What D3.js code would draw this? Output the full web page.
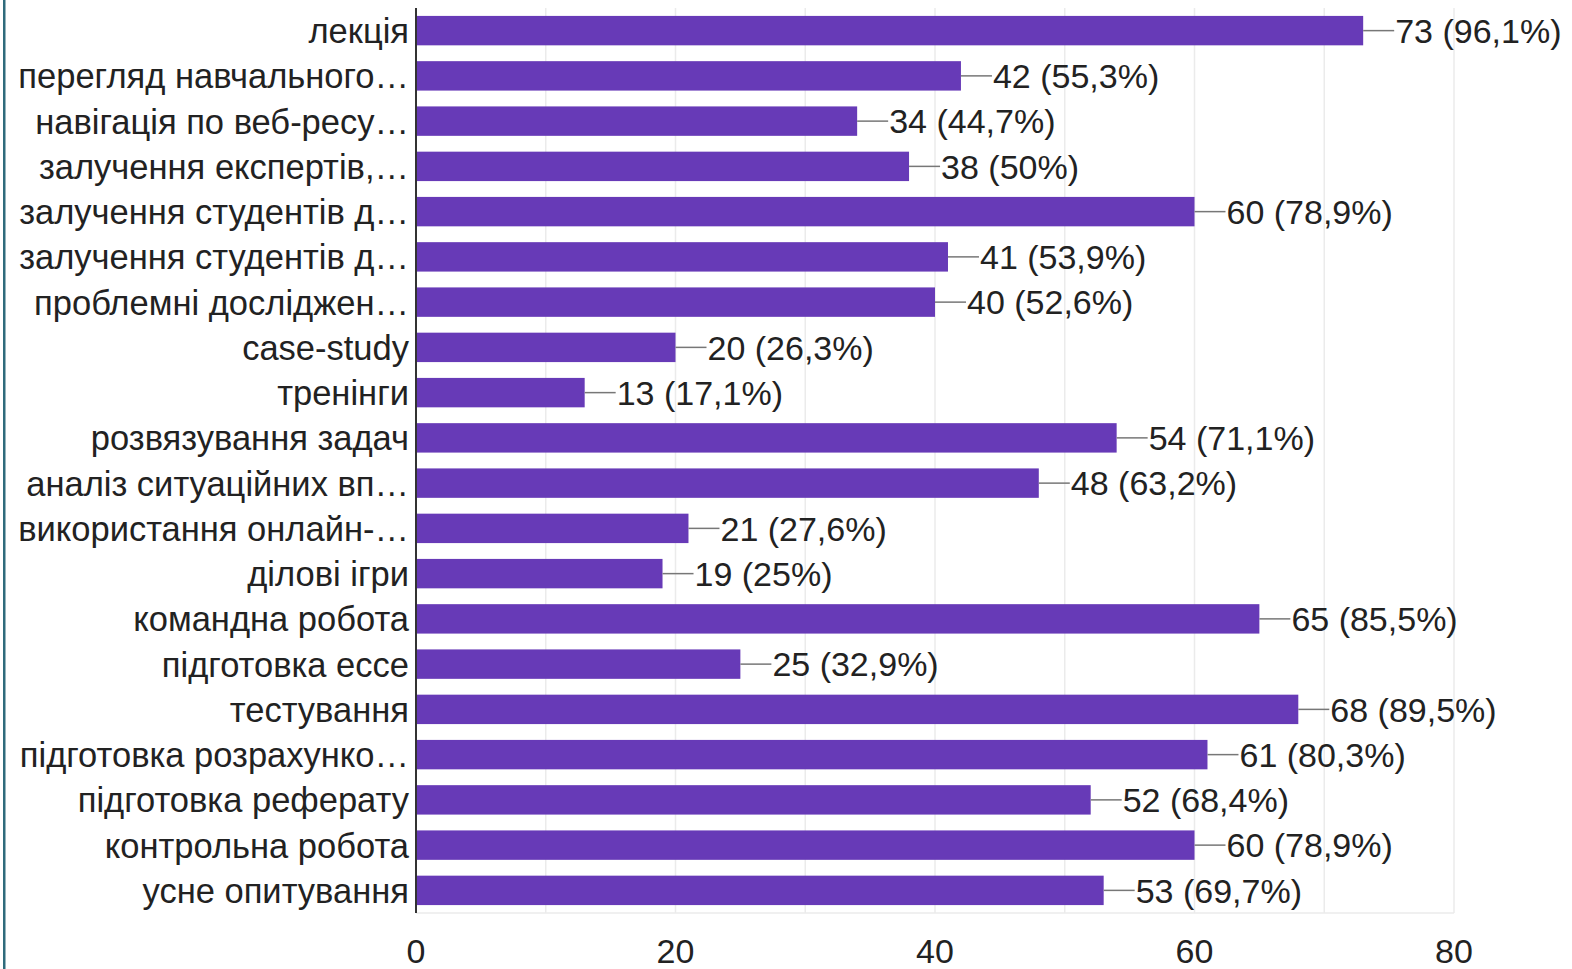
<!DOCTYPE html>
<html><head><meta charset="utf-8">
<script src="https://cdn.jsdelivr.net/npm/d3@7/dist/d3.min.js"></script>
<style>
html,body{margin:0;padding:0;background:#fff;}
svg{display:block;}
text{font-family:"Liberation Sans",Arial,sans-serif;}
</style></head>
<body>
<svg id="chart" width="1572" height="969"></svg>
<script>
const categories = ["лекція","перегляд навчального…","навігація по веб-ресу…","залучення експертів,…","залучення студентів д…","залучення студентів д…","проблемні досліджен…","case-study","тренінги","розвязування задач","аналіз ситуаційних вп…","використання онлайн-…","ділові ігри","командна робота","підготовка ессе","тестування","підготовка розрахунко…","підготовка реферату","контрольна робота","усне опитування"];
const counts = [73,42,34,38,60,41,40,20,13,54,48,21,19,65,25,68,61,52,60,53];
const percents = ["96,1%","55,3%","44,7%","50%","78,9%","53,9%","52,6%","26,3%","17,1%","71,1%","63,2%","27,6%","25%","85,5%","32,9%","89,5%","80,3%","68,4%","78,9%","69,7%"];
const xTicks = [0,20,40,60,80];
const gridTicks = [10,20,30,40,50,60,70,80];

const svg = d3.select("#chart");
const m = {left:416, right:1454, top:8, bottom:913};

const x = d3.scaleLinear().domain([0,80]).range([m.left,m.right]);
const y = d3.scaleBand().domain(d3.range(categories.length)).range([m.top,m.bottom]).paddingInner(0.35).paddingOuter(0.175);

// left teal frame line
svg.append("rect").attr("x",3).attr("y",0).attr("width",2.5).attr("height",969).attr("fill","#2f6b7c");

// gridlines
svg.append("g").selectAll("line").data(gridTicks).join("line")
  .attr("x1",d=>x(d)).attr("x2",d=>x(d)).attr("y1",m.top).attr("y2",m.bottom)
  .attr("stroke","#ebebeb").attr("stroke-width",1.5);
svg.append("line").attr("x1",m.left).attr("x2",m.right).attr("y1",m.bottom).attr("y2",m.bottom)
  .attr("stroke","#ebebeb").attr("stroke-width",1.5);

// bars
svg.append("g").selectAll("rect").data(counts).join("rect")
  .attr("x",x(0)).attr("y",(d,i)=>y(i)).attr("width",d=>x(d)-x(0)).attr("height",y.bandwidth())
  .attr("fill","#673ab7");

// leader lines
svg.append("g").selectAll("line").data(counts).join("line")
  .attr("x1",d=>x(d)).attr("x2",d=>x(d)+31)
  .attr("y1",(d,i)=>y(i)+y.bandwidth()/2).attr("y2",(d,i)=>y(i)+y.bandwidth()/2)
  .attr("stroke","#777").attr("stroke-width",1.5);

// value labels
svg.append("g").selectAll("text").data(counts).join("text")
  .attr("x",d=>x(d)+32).attr("y",(d,i)=>y(i)+y.bandwidth()/2)
  .attr("dy","0.36em").attr("font-size",34).attr("fill","#222")
  .text((d,i)=>d+" ("+percents[i]+")");

// category labels
svg.append("g").selectAll("text").data(categories).join("text")
  .attr("x",m.left-7).attr("y",(d,i)=>y(i)+y.bandwidth()/2)
  .attr("dy","0.36em").attr("text-anchor","end").attr("font-size",34.5).attr("fill","#222")
  .text(d=>d);

// axis line
svg.append("line").attr("x1",m.left).attr("x2",m.left).attr("y1",m.top).attr("y2",m.bottom)
  .attr("stroke","#333").attr("stroke-width",2);

// x tick labels
svg.append("g").selectAll("text").data(xTicks).join("text")
  .attr("x",d=>x(d)).attr("y",963).attr("text-anchor","middle")
  .attr("font-size",34).attr("fill","#222").text(d=>d);
</script>
</body></html>
